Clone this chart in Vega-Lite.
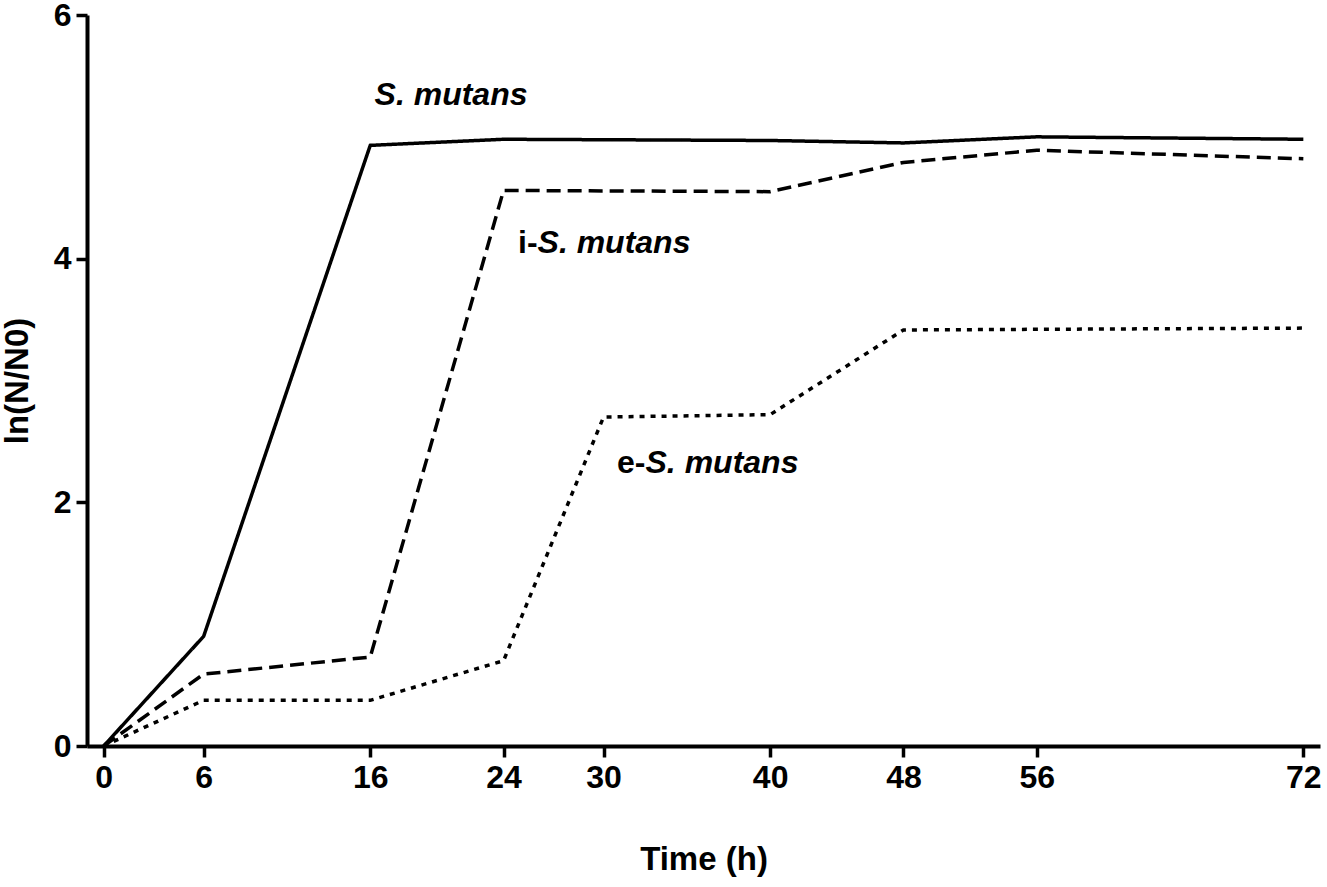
{
  "$schema": "https://vega.github.io/schema/vega-lite/v6.json",
  "autosize": "none",
  "padding": {"left": 87, "top": 15, "right": 7, "bottom": 141},
  "width": 1233,
  "height": 731,
  "background": "white",
  "datasets": {
    "growth": [
      {"strain": "S. mutans", "time": 0, "lnN": 0},
      {"strain": "S. mutans", "time": 6, "lnN": 0.9},
      {"strain": "S. mutans", "time": 16, "lnN": 4.93},
      {"strain": "S. mutans", "time": 24, "lnN": 4.98},
      {"strain": "S. mutans", "time": 40, "lnN": 4.97},
      {"strain": "S. mutans", "time": 48, "lnN": 4.95},
      {"strain": "S. mutans", "time": 56, "lnN": 5.0},
      {"strain": "S. mutans", "time": 72, "lnN": 4.98},
      {"strain": "i-S. mutans", "time": 0, "lnN": 0},
      {"strain": "i-S. mutans", "time": 6, "lnN": 0.59},
      {"strain": "i-S. mutans", "time": 16, "lnN": 0.73},
      {"strain": "i-S. mutans", "time": 24, "lnN": 4.56},
      {"strain": "i-S. mutans", "time": 40, "lnN": 4.55},
      {"strain": "i-S. mutans", "time": 48, "lnN": 4.79},
      {"strain": "i-S. mutans", "time": 56, "lnN": 4.89},
      {"strain": "i-S. mutans", "time": 72, "lnN": 4.82},
      {"strain": "e-S. mutans", "time": 0, "lnN": 0},
      {"strain": "e-S. mutans", "time": 6, "lnN": 0.375},
      {"strain": "e-S. mutans", "time": 16, "lnN": 0.375},
      {"strain": "e-S. mutans", "time": 24, "lnN": 0.7},
      {"strain": "e-S. mutans", "time": 30, "lnN": 2.7},
      {"strain": "e-S. mutans", "time": 40, "lnN": 2.72},
      {"strain": "e-S. mutans", "time": 48, "lnN": 3.415},
      {"strain": "e-S. mutans", "time": 56, "lnN": 3.42},
      {"strain": "e-S. mutans", "time": 72, "lnN": 3.43}
    ],
    "labels": [
      {"time": 16.26, "lnN": 5.26, "prefix": "", "name": "S. mutans"},
      {"time": 26.04, "lnN": 4.05, "prefix": "i-", "name": "S. mutans"},
      {"time": 32.52, "lnN": 2.24, "prefix": "e-", "name": "S. mutans"}
    ]
  },
  "layer": [
    {
      "data": {"name": "growth"},
      "mark": {"type": "line", "color": "black", "strokeWidth": 3.5, "strokeCap": "butt"},
      "encoding": {
        "x": {
          "field": "time", "type": "quantitative",
          "scale": {"domain": [-1, 73], "nice": false},
          "axis": {"values": [0, 6, 16, 24, 30, 40, 48, 56, 72], "format": "d", "title": "Time (h)", "titlePadding": 50}
        },
        "y": {
          "field": "lnN", "type": "quantitative",
          "scale": {"domain": [0, 6], "nice": false},
          "axis": {"values": [0, 2, 4, 6], "format": "d", "title": "ln(N/N0)", "titlePadding": 19}
        },
        "strokeDash": {
          "field": "strain", "type": "nominal",
          "scale": {"domain": ["S. mutans", "i-S. mutans", "e-S. mutans"], "range": [[1, 0], [14, 7], [5, 6]]},
          "legend": null
        },
        "detail": {"field": "strain"}
      }
    },
    {
      "data": {"name": "labels"},
      "mark": {"type": "text", "align": "right", "baseline": "alphabetic", "font": "Liberation Sans", "fontWeight": "bold", "fontSize": 32, "color": "black"},
      "encoding": {
        "x": {"field": "time", "type": "quantitative"},
        "y": {"field": "lnN", "type": "quantitative"},
        "text": {"field": "prefix"}
      }
    },
    {
      "data": {"name": "labels"},
      "mark": {"type": "text", "align": "left", "baseline": "alphabetic", "font": "Liberation Sans", "fontWeight": "bold", "fontStyle": "italic", "fontSize": 32, "color": "black"},
      "encoding": {
        "x": {"field": "time", "type": "quantitative"},
        "y": {"field": "lnN", "type": "quantitative"},
        "text": {"field": "name"}
      }
    }
  ],
  "config": {
    "view": {"stroke": null},
    "axis": {
      "grid": false,
      "domainColor": "black",
      "domainWidth": 4,
      "tickColor": "black",
      "tickWidth": 3.5,
      "tickSize": 11,
      "labelFont": "Liberation Sans",
      "labelFontWeight": "bold",
      "labelFontSize": 32,
      "labelColor": "black",
      "labelPadding": 5,
      "titleFont": "Liberation Sans",
      "titleFontWeight": "bold",
      "titleFontSize": 33,
      "titleColor": "black"
    },
    "axisX": {"labelPadding": 5}
  }
}
